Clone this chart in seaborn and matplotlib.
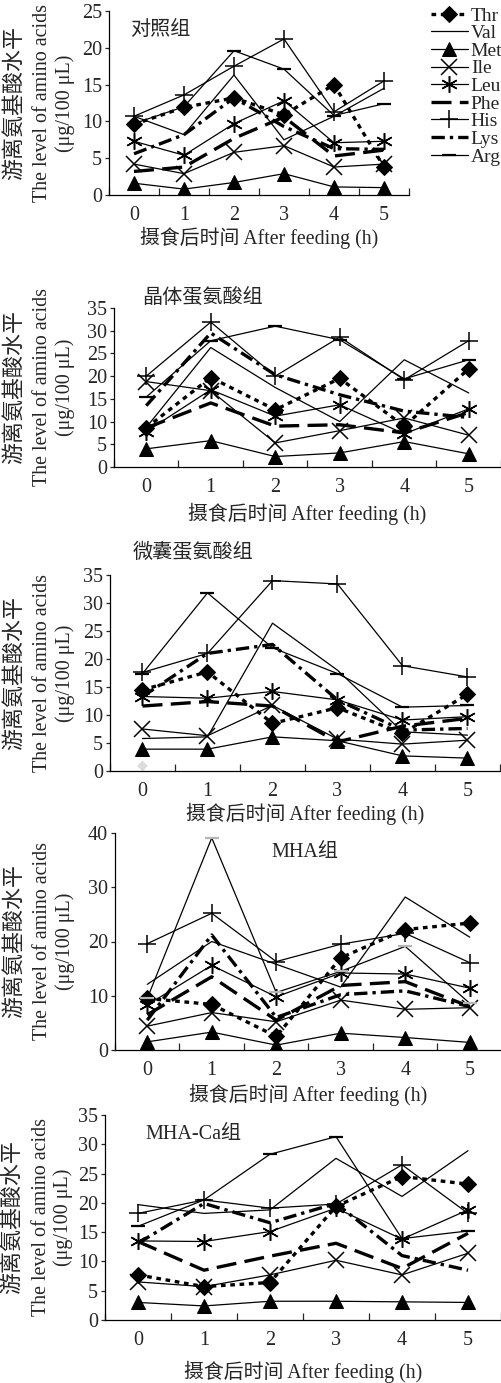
import numpy as np
import pandas as pd
import matplotlib
matplotlib.use('Agg')
import matplotlib.pyplot as plt
import seaborn as sns

# hours after feeding
hours = [0, 1, 2, 3, 4, 5]
amino_acids = ['Thr', 'Val', 'Met', 'Ile', 'Leu', 'Phe', 'His', 'Lys', 'Arg']

# free amino acid levels (ug/100 uL)
control = {
    'Thr': [9.6, 11.9, 13.2, 10.9, 15.0, 3.8],
    'Val': [10.7, 8.2, 16.3, 7.5, 10.7, 14.5],
    'Met': [1.6, 0.8, 1.7, 2.9, 1.1, 1.0],
    'Ile': [4.2, 2.9, 5.8, 6.7, 3.8, 4.2],
    'Leu': [7.3, 5.4, 9.7, 12.8, 7.1, 7.3],
    'Phe': [3.2, 3.8, 7.7, 10.6, 5.3, 6.1],
    'His': [10.7, 13.6, 17.5, 21.2, 11.3, 15.5],
    'Lys': [5.6, 8.2, 13.2, 9.3, 6.3, 6.2],
    'Arg': [9.7, 12.0, 19.6, 17.1, 10.8, 12.4],
}
crystal_met = {
    'Thr': [8.6, 19.7, 12.6, 19.5, 9.0, 21.6],
    'Val': [8.7, 26.3, 17.5, 10.0, 23.6, 16.3],
    'Met': [4.0, 5.8, 2.3, 3.1, 5.6, 2.9],
    'Ile': [18.8, 16.8, 5.3, 8.0, 10.8, 7.0],
    'Leu': [7.8, 17.0, 11.2, 13.7, 7.3, 12.8],
    'Phe': [8.6, 14.1, 9.0, 9.3, 7.5, 12.0],
    'His': [20.0, 31.9, 20.0, 28.6, 19.2, 27.8],
    'Lys': [13.5, 29.5, 20.3, 15.9, 12.3, 10.9],
    'Arg': [15.4, 27.8, 31.0, 28.0, 19.4, 23.6],
}
micro_met = {
    'Thr': [14.5, 17.7, 8.5, 11.3, 6.7, 13.7],
    'Val': [5.8, 6.1, 26.4, 18.0, 7.0, 6.4],
    'Met': [3.9, 3.9, 6.1, 5.4, 2.7, 2.3],
    'Ile': [7.5, 6.3, 11.7, 5.7, 4.8, 5.5],
    'Leu': [13.3, 13.0, 14.2, 12.7, 9.1, 9.7],
    'Phe': [11.6, 12.4, 11.6, 5.2, 8.0, 9.4],
    'His': [17.6, 21.0, 34.0, 33.4, 18.8, 16.8],
    'Lys': [13.3, 21.0, 22.6, 12.7, 7.3, 7.6],
    'Arg': [17.4, 31.8, 22.0, 17.4, 11.4, 11.7],
}
# faint stray diamond seen at 0 h in the microcapsule panel
micro_stray_hour = [0]
micro_stray_value = [0.9]

mha = {
    'Thr': [9.5, 8.4, 2.5, 17.0, 22.2, 23.4],
    'Val': [12.1, 20.0, 15.8, 11.6, 28.2, 20.8],
    'Met': [1.5, 3.3, 0.9, 3.1, 2.3, 1.4],
    'Ile': [4.4, 6.9, 5.2, 9.2, 7.5, 7.8],
    'Leu': [8.3, 15.6, 9.8, 14.2, 14.0, 11.4],
    'Phe': [6.5, 13.5, 5.5, 11.9, 12.6, 8.0],
    'His': [19.6, 25.2, 16.3, 19.5, 21.5, 16.1],
    'Lys': [5.5, 21.2, 6.0, 10.2, 10.9, 8.0],
    'Arg': [9.5, 39.1, 10.6, 14.5, 19.1, 8.6],
}
mha_ca = {
    'Thr': [7.7, 5.7, 6.4, 19.4, 24.5, 23.2],
    'Val': [19.7, 18.2, 18.8, 27.6, 21.1, 28.9],
    'Met': [3.0, 2.4, 3.2, 3.2, 3.1, 3.0],
    'Ile': [6.5, 5.7, 7.7, 10.2, 7.7, 11.4],
    'Leu': [13.5, 13.4, 15.1, 19.1, 13.8, 18.8],
    'Phe': [13.4, 8.5, 10.9, 13.1, 8.8, 14.8],
    'His': [18.2, 20.5, 19.1, 19.8, 26.5, 18.2],
    'Lys': [13.1, 19.9, 16.6, 19.9, 11.0, 8.5],
    'Arg': [16.0, 20.5, 28.3, 31.3, 13.9, 15.2],
}

group_titles = ['对照组', '晶体蛋氨酸组', '微囊蛋氨酸组', 'MHA组', 'MHA-Ca组']
ylabel_lines = ['游离氨基酸水平', 'The level of amino acids', '(μg/100 μL)']

sns.set_style('ticks')
plt.rcParams['font.family'] = ['Liberation Serif', 'Noto Sans CJK SC']
plt.rcParams['font.size'] = 14

styles = {
    'Thr': dict(ls=(0, (1.4, 1.4)), lw=2.4, marker='D', ms=8),
    'Val': dict(ls='-', lw=0.9, marker=None),
    'Met': dict(ls='-', lw=0.9, marker='^', ms=10),
    'Ile': dict(ls='-', lw=0.9, marker='x', ms=11, mew=1.1),
    'Leu': dict(ls='-', lw=0.9, marker=(6, 2, 0), ms=12, mew=1.1),
    'Phe': dict(ls=(0, (6, 2.5)), lw=2.4, marker=None),
    'His': dict(ls='-', lw=0.9, marker='+', ms=13, mew=1.1),
    'Lys': dict(ls=(0, (4, 1.5, 1, 1.5)), lw=2.4, marker=None),
    'Arg': dict(ls='-', lw=0.9, marker='_', ms=10, mew=1.6),
}

W, H = 502, 1383
fig = plt.figure(figsize=(W / 100, H / 100), dpi=100)

# panel boxes in pixels: left, right, top, bottom
boxes = [(109, 409, 11, 195), (114, 501, 308, 467), (110, 500, 575, 771),
         (115, 502, 833, 1050), (105, 501, 1115, 1320)]
ymaxes = [25, 35, 35, 40, 35]
ysteps = [5, 5, 5, 10, 5]
xlabel_pads = [1, 4, 1, 3, 8]
title_pos = [(130, 30, 'left'), (142, 298, 'left'), (133, 553, 'left'),
             (305, 852, 'center'), (145, 1135, 'left')]
ylabel_x = [(15, 43, 65)] * 4 + [(13, 42, 63)]
panels = [control, crystal_met, micro_met, mha, mha_ca]

for i, data in enumerate(panels):
    l, r, t, b = boxes[i]
    ax = fig.add_axes([l / W, 1 - b / H, (r - l) / W, (b - t) / H])
    for aa in amino_acids:
        st = dict(styles[aa])
        mec = 'black'
        if i == 3 and aa == 'Arg':
            mec = '#b5b5b5'
        sns.lineplot(x=hours, y=data[aa], ax=ax, color='black', label=aa,
                     mfc='black', mec=mec, **st)
    if i == 2:
        sns.scatterplot(x=micro_stray_hour, y=micro_stray_value, ax=ax, marker='D',
                        s=30, color='#dcdcdc', edgecolor='none', clip_on=False,
                        legend=False)
    if ax.get_legend() is not None:
        ax.get_legend().remove()
    ax.set_xlim(-0.5, 5.5)
    ax.set_ylim(0, ymaxes[i])
    ax.set_yticks(np.arange(0, ymaxes[i] + 1, ysteps[i]))
    ax.set_xticks(hours)
    ax.set_xticks(np.arange(-0.5, 6, 1), minor=True)
    ax.tick_params(axis='x', which='major', length=0, pad=8, labelsize=14.5)
    ax.tick_params(axis='x', which='minor', direction='in', length=5, width=0.9)
    ax.tick_params(axis='y', direction='out', length=3, width=0.9, pad=2, labelsize=14.5)
    for s in ['top', 'right']:
        ax.spines[s].set_visible(False)
    for s in ['left', 'bottom']:
        ax.spines[s].set_linewidth(0.9)
        ax.spines[s].set_color('black')
    ax.set_xlabel('摄食后时间 After feeding (h)', fontsize=14.3, labelpad=xlabel_pads[i])
    ax.set_ylabel('')

    # three-line y label, each line placed by hand
    yc = 1 - (t + b) / 2 / H
    sizes = [15.8, 14.4, 14.4]
    for k in range(3):
        fig.text(ylabel_x[i][k] / W, yc, ylabel_lines[k], rotation=90,
                 ha='center', va='center', fontsize=sizes[k])

    tx, ty, ha = title_pos[i]
    fig.text(tx / W, 1 - ty / H, group_titles[i], ha=ha, va='center', fontsize=14.5)
    if i == 0:
        handles, labels = ax.get_legend_handles_labels()

fig.legend(handles, labels, loc='upper left', bbox_to_anchor=(431 / W, 1 - 7 / H),
           frameon=False, handlelength=1.9, handletextpad=0.15, labelspacing=0.0,
           borderpad=0, borderaxespad=0, fontsize=14)

fig.savefig('out.png', dpi=100)
